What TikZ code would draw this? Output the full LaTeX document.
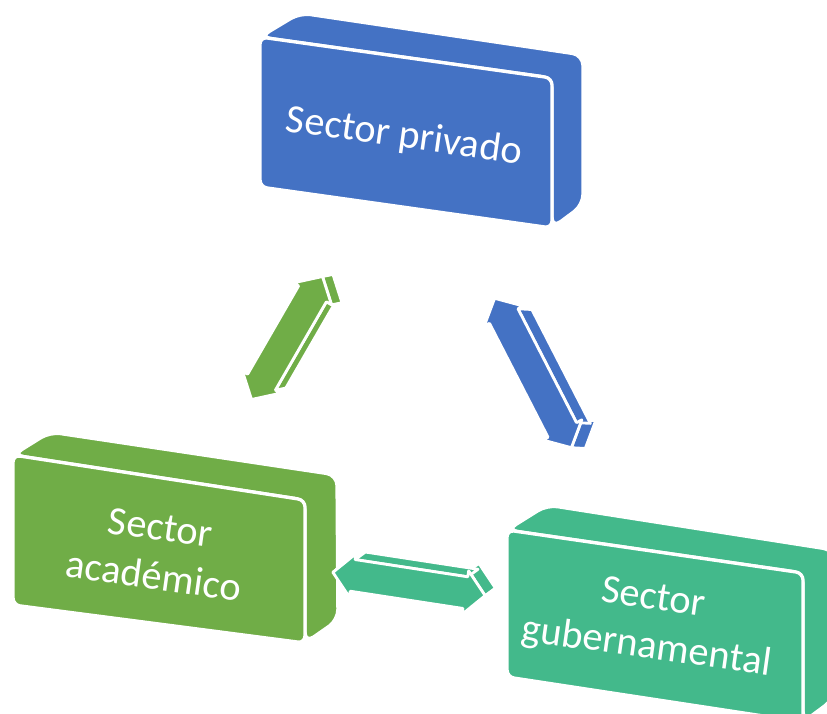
\documentclass[tikz,border=0pt]{standalone}
\usepackage{fontspec}
\setmainfont{Carlito}
\definecolor{privblue}{HTML}{4472C4}
\definecolor{acadgreen}{HTML}{70AD47}
\definecolor{gobteal}{HTML}{43B98B}

\begin{document}
\begin{tikzpicture}[x=0.02cm, y=0.02cm,
    face/.style={fill=#1, draw=white, line width=1.9pt, line join=round},
    txt/.style={text=white, align=center, font=\fontsize{23}{28}\selectfont, rotate=-8}]

    \useasboundingbox (0,0) rectangle (827,-713);

    % double arrow in 3d: centre, angle, half length, colour, depth x, depth y
    \def\arrowthreed#1#2#3#4#5#6{%
        \begin{scope}[shift={#1}, rotate=#2]
            \draw[face=#4, line width=1.6pt] (-#3,0) -- (-#3+20,-22) -- (-#3+20+#5,-22+#6) -- (-#3+#5,#6) -- cycle;
            \draw[face=#4, line width=1.6pt] (-#3+20,-16) -- (#3-20,-16) -- (#3-20+#5,-16+#6) -- (-#3+20+#5,-16+#6) -- cycle;
            \draw[face=#4, line width=1.6pt] (#3-20,-22) -- (#3,0) -- (#3+#5,#6) -- (#3-20+#5,-22+#6) -- cycle;
            \draw[face=#4, line width=1.6pt] (#3,0) -- (#3-20,22) -- (#3-20,16) -- (-#3+20,16) -- (-#3+20,22) -- (-#3,0)
                -- (-#3+20,-22) -- (-#3+20,-16) -- (#3-20,-16) -- (#3-20,-22) -- cycle;
        \end{scope}}

    % Sector privado
    \draw[face=privblue, rounded corners=6pt] (260,-37) -- (300,-13) -- (583,-55) -- (583,-205) -- (552,-228) -- (552,-78) -- cycle;
    \draw[face=privblue, rounded corners=4pt] (260,-37) -- (552,-78) -- (552,-228) -- (260,-187) -- cycle;
    \node[txt] (priv) at (404,-137) {Sector privado};

    % Sector academico
    \draw[face=acadgreen, rounded corners=6pt] (13,-455) -- (50,-432) -- (337,-475) -- (338,-620) -- (305,-643) -- (305,-500) -- cycle;
    \draw[face=acadgreen, rounded corners=4pt] (13,-455) -- (305,-500) -- (305,-643) -- (13,-605) -- cycle;
    \node[txt] (acad) at (157,-552) {Sector\\académico};

    % Sector gubernamental
    \draw[face=gobteal, rounded corners=6pt] (507,-530) -- (547,-505) -- (834,-550) -- (834,-699) -- (803,-722) -- (803,-573) -- cycle;
    \draw[face=gobteal, rounded corners=4pt] (507,-530) -- (803,-573) -- (803,-722) -- (507,-677) -- cycle;
    \node[txt] (gob) at (650,-624) {Sector\\gubernamental};

    \arrowthreed{(287,-338)}{60}{71}{acadgreen}{7}{-8}
    \arrowthreed{(533,-373)}{117.2}{84}{privblue}{-7}{-12}
    \arrowthreed{(409,-584)}{171.3}{77}{gobteal}{-9}{-9}

\end{tikzpicture}
\end{document}
